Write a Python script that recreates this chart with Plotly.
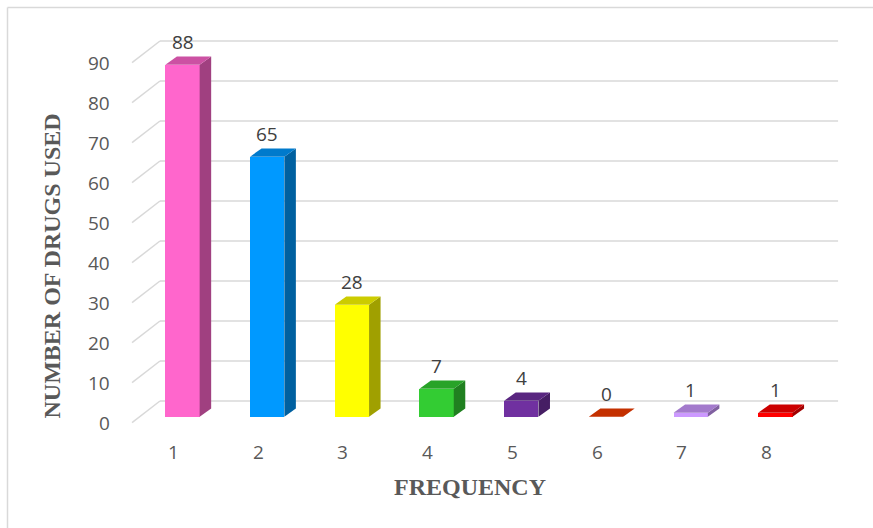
import plotly.graph_objects as go

# Data
categories = ["1", "2", "3", "4", "5", "6", "7", "8"]
drug_counts = [88, 65, 28, 7, 4, 0, 1, 1]
y_ticks = [0, 10, 20, 30, 40, 50, 60, 70, 80, 90]
bar_colors = ["#FF66CC", "#0099FF", "#FFFF00", "#33CC33",
              "#7030A0", "#F53D00", "#CC99FF", "#FF0000"]

# Geometry of the pseudo-3D look (in data units)
BAR_W = 0.405          # front face width, in category units
DEPTH_X = 0.136        # depth offset, category units
DEPTH_Y = 2.08         # depth offset, value units
WALL_FRONT_X = 0.404   # front corner of the floor/wall lines
WALL_BACK_X = 0.734    # back corner where the wall begins
WALL_END_X = 8.74
FRONT_DY = -1.5        # front end of a gridline relative to its value
BACK_DY = 3.93         # back wall offset relative to its value

GRID = "#d9d9d9"
TICK_COL = "#595959"
LABEL_COL = "#404040"
SANS = "Open Sans, Liberation Sans, sans-serif"
SERIF = "Liberation Serif, Times New Roman, serif"


def shade(hex_col, f):
    h = hex_col.lstrip("#")
    r, g, b = (int(h[i:i + 2], 16) for i in (0, 2, 4))
    return "#%02X%02X%02X" % (int(r * f), int(g * f), int(b * f))


xs = list(range(1, len(categories) + 1))
fig = go.Figure()

# Back wall gridlines with their diagonal floor edges
shapes = []
for t in y_ticks:
    shapes.append(dict(type="line", layer="below", xref="x", yref="y",
                       x0=WALL_FRONT_X, y0=t + FRONT_DY,
                       x1=WALL_BACK_X, y1=t + BACK_DY,
                       line=dict(color=GRID, width=1.5)))
    shapes.append(dict(type="line", layer="below", xref="x", yref="y",
                       x0=WALL_BACK_X, y0=t + BACK_DY,
                       x1=WALL_END_X, y1=t + BACK_DY,
                       line=dict(color=GRID, width=1.5)))

# Chart frame (top and left edges)
shapes.append(dict(type="line", xref="paper", yref="paper",
                   x0=7.5 / 873, y0=1 - 7.5 / 528, x1=1.0, y1=1 - 7.5 / 528,
                   line=dict(color="#d9d9d9", width=1.5)))
shapes.append(dict(type="line", xref="paper", yref="paper",
                   x0=7.5 / 873, y0=0.0, x1=7.5 / 873, y1=1 - 7.5 / 528,
                   line=dict(color="#d9d9d9", width=1.5)))

# Front faces
fig.add_trace(go.Bar(x=xs, y=drug_counts, width=BAR_W,
                     marker=dict(color=bar_colors, line=dict(width=0)),
                     hoverinfo="skip", showlegend=False))

# Side and top faces
hw = BAR_W / 2
for c, v, col in zip(xs, drug_counts, bar_colors):
    side_x = [c + hw, c + hw + DEPTH_X, c + hw + DEPTH_X, c + hw, c + hw]
    side_y = [0, DEPTH_Y, v + DEPTH_Y, v, 0]
    if v > 0:
        fig.add_trace(go.Scatter(x=side_x, y=side_y, fill="toself",
                                 fillcolor=shade(col, 0.63), mode="lines",
                                 line=dict(width=0), hoverinfo="skip",
                                 showlegend=False))
    top_x = [c - hw, c - hw + DEPTH_X, c + hw + DEPTH_X, c + hw, c - hw]
    top_y = [v, v + DEPTH_Y, v + DEPTH_Y, v, v]
    fig.add_trace(go.Scatter(x=top_x, y=top_y, fill="toself",
                             fillcolor=shade(col, 0.8), mode="lines",
                             line=dict(width=0), hoverinfo="skip",
                             showlegend=False))

annotations = []
# Value labels
for c, v in zip(xs, drug_counts):
    annotations.append(dict(x=c, y=v + 5.7, xref="x", yref="y", text=str(v),
                            showarrow=False, xanchor="center", yanchor="middle",
                            font=dict(family=SANS, size=19, color=LABEL_COL)))
# Value axis tick labels
for t in y_ticks:
    annotations.append(dict(x=WALL_FRONT_X, y=t + FRONT_DY, xref="x", yref="y",
                            text=str(t), showarrow=False, xanchor="right",
                            yanchor="middle", xshift=-20,
                            font=dict(family=SANS, size=19, color=TICK_COL)))
# Category tick labels
for c, lab in zip(xs, categories):
    annotations.append(dict(x=c - 0.106, y=-8.8, xref="x", yref="y", text=lab,
                            showarrow=False, xanchor="center", yanchor="middle",
                            font=dict(family=SANS, size=19, color=TICK_COL)))
# Axis titles
annotations.append(dict(x=470 / 873, y=1 - 487 / 528, xref="paper", yref="paper",
                        text="<b>FREQUENCY</b>", showarrow=False,
                        xanchor="center", yanchor="middle",
                        font=dict(family=SERIF, size=24, color=TICK_COL)))
annotations.append(dict(x=51.5 / 873, y=1 - 266 / 528, xref="paper", yref="paper",
                        text="<b>NUMBER OF DRUGS USED</b>", showarrow=False,
                        textangle=-90, xanchor="center", yanchor="middle",
                        font=dict(family=SERIF, size=24, color=TICK_COL)))

PX_PER_CAT = 84.7
PX_PER_UNIT = 4.0
X0_PX, Y0_PX = 182.5, 416.7
fig.update_layout(
    width=873, height=528,
    margin=dict(l=0, r=0, t=0, b=0),
    paper_bgcolor="white", plot_bgcolor="white",
    xaxis=dict(visible=False, fixedrange=True,
               range=[1 - X0_PX / PX_PER_CAT, 1 + (873 - X0_PX) / PX_PER_CAT]),
    yaxis=dict(visible=False, fixedrange=True,
               range=[(Y0_PX - 528) / PX_PER_UNIT, Y0_PX / PX_PER_UNIT]),
    shapes=shapes,
    annotations=annotations,
    bargap=0,
)

fig.write_html("out.html")
